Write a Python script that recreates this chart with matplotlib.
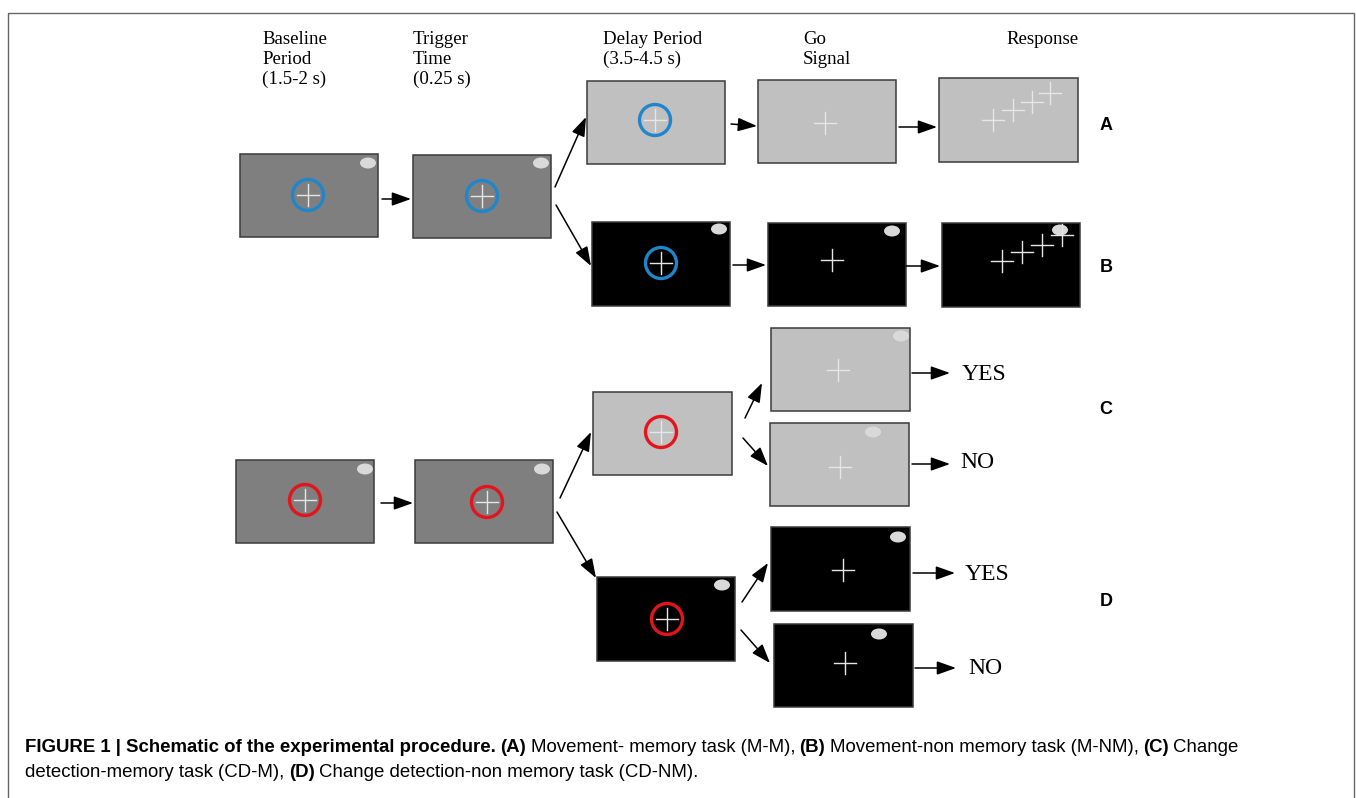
import matplotlib
matplotlib.use("Agg")
import matplotlib.pyplot as plt
from matplotlib.patches import Rectangle, Circle, Ellipse

# stage headers and row labels
stage_labels = ["Baseline\nPeriod\n(1.5-2 s)", "Trigger\nTime\n(0.25 s)",
                "Delay Period\n(3.5-4.5 s)", "Go\nSignal", "Response"]
stage_x = [262, 413, 603, 803, 1006]
row_labels = ["A", "B", "C", "D"]
row_label_y = [125, 268, 410, 602]
answer_labels = ["YES", "NO", "YES", "NO"]
answer_pos = [(962, 375), (960, 463), (965, 575), (968, 668)]

# screens: (left, top, right, bottom, fill, circle colour, circle centre, dot, crosses)
BLUE = "#1f86cc"
RED = "#e3141b"
DARK = "#7f7f7f"
LIGHT = "#c0c0c0"
BLACK = "#000000"
screens = [
    (240, 154, 378, 237, DARK, BLUE, (308, 195), (368, 163), []),
    (413, 155, 551, 238, DARK, BLUE, (482, 196), (541, 163), []),
    (587, 81, 725, 164, LIGHT, BLUE, (655, 120), None, []),
    (758, 80, 896, 163, LIGHT, None, None, None, [(825, 123)]),
    (939, 78, 1078, 162, LIGHT, None, None, None,
     [(993, 120), (1013, 110), (1032, 102), (1050, 93)]),
    (592, 222, 730, 306, BLACK, BLUE, (661, 263), (719, 229), []),
    (768, 223, 906, 306, BLACK, None, None, (892, 231), [(832, 260)]),
    (942, 223, 1080, 307, BLACK, None, None, (1060, 230),
     [(1002, 261), (1022, 252), (1042, 245), (1062, 235)]),
    (236, 460, 374, 543, DARK, RED, (305, 500), (365, 469), []),
    (415, 460, 553, 543, DARK, RED, (487, 502), (542, 469), []),
    (593, 392, 732, 475, LIGHT, RED, (661, 432), None, []),
    (771, 328, 910, 411, LIGHT, None, None, (901, 336), [(838, 370)]),
    (770, 423, 909, 506, LIGHT, None, None, (873, 432), [(840, 467)]),
    (597, 577, 735, 661, BLACK, RED, (667, 619), (722, 585), []),
    (771, 527, 910, 611, BLACK, None, None, (898, 537), [(843, 570)]),
    (774, 624, 913, 707, BLACK, None, None, (879, 634), [(845, 663)]),
]

arrows = [
    ((382, 199), (411, 199)), ((555, 187), (586, 117)), ((556, 205), (591, 266)),
    ((731, 124), (757, 126)), ((899, 127), (937, 127)),
    ((733, 265), (766, 265)), ((906, 266), (940, 266)),
    ((381, 503), (413, 503)), ((560, 498), (591, 432)), ((557, 512), (596, 578)),
    ((745, 418), (762, 383)), ((743, 438), (768, 466)),
    ((912, 373), (950, 373)), ((912, 464), (950, 464)),
    ((742, 602), (768, 563)), ((741, 630), (770, 663)),
    ((913, 573), (955, 573)), ((915, 668), (956, 668)),
]

caption_lines = [
    [("FIGURE 1 | Schematic of the experimental procedure.", "bold"), ("(A)", "bold"),
     ("Movement- memory task (M-M),", "normal"), ("(B)", "bold"),
     ("Movement-non memory task (M-NM),", "normal"), ("(C)", "bold"), ("Change", "normal")],
    [("detection-memory task (CD-M),", "normal"), ("(D)", "bold"),
     ("Change detection-non memory task (CD-NM).", "normal")],
]
caption_y = [752, 777]

W, H = 1356, 798
fig = plt.figure(figsize=(W / 100, H / 100), dpi=100)
ax = fig.add_axes([0, 0, 1, 1])
ax.set_xlim(0, W)
ax.set_ylim(H, 0)
ax.axis("off")

# outer frame
ax.add_patch(Rectangle((8, 13), 1346, 800, fill=False, ec="#666666", lw=1.0))

for x0, y0, x1, y1, fill, ccol, cc, dot, crosses in screens:
    ax.add_patch(Rectangle((x0, y0), x1 - x0, y1 - y0, fc=fill, ec="#3a3a3a", lw=1.1))
    if dot is not None:
        ax.add_patch(Ellipse(dot, 16, 11, fc="#d9d9d9", ec="none"))
    if cc is not None:
        crosses = crosses + [cc]
    for cx, cy in crosses:
        ax.plot([cx - 11, cx + 11], [cy, cy], color="#e6e6e6", lw=1.0)
        ax.plot([cx, cx], [cy - 11, cy + 11], color="#e6e6e6", lw=1.0)
    if cc is not None:
        ax.add_patch(Circle(cc, 15.5, fill=False, ec=ccol, lw=2.4))

for start, end in arrows:
    ax.annotate("", xy=end, xytext=start,
                arrowprops=dict(arrowstyle="-|>,head_length=0.9,head_width=0.32",
                                mutation_scale=13, color="black", lw=1.1,
                                shrinkA=0, shrinkB=0))

for lab, x in zip(stage_labels, stage_x):
    ax.text(x, 31, lab, ha="left", va="top", fontsize=13.6,
            family="Liberation Serif", linespacing=1.22)

for lab, y in zip(row_labels, row_label_y):
    ax.text(1106, y, lab, ha="center", va="center", fontsize=13,
            fontweight="bold", family="Liberation Sans")

for lab, (x, y) in zip(answer_labels, answer_pos):
    ax.text(x, y, lab, ha="left", va="center", fontsize=17, family="Liberation Serif")

# caption built from pieces of bold and normal text
renderer = fig.canvas.get_renderer()
for pieces, y in zip(caption_lines, caption_y):
    x = 25
    for txt, wt in pieces:
        t = ax.text(x, y, txt, ha="left", va="baseline", fontsize=13.4,
                    fontweight=wt, family="Liberation Sans")
        bb = t.get_window_extent(renderer=renderer)
        x += bb.width + 4.5

fig.savefig("out.png", dpi=100)
